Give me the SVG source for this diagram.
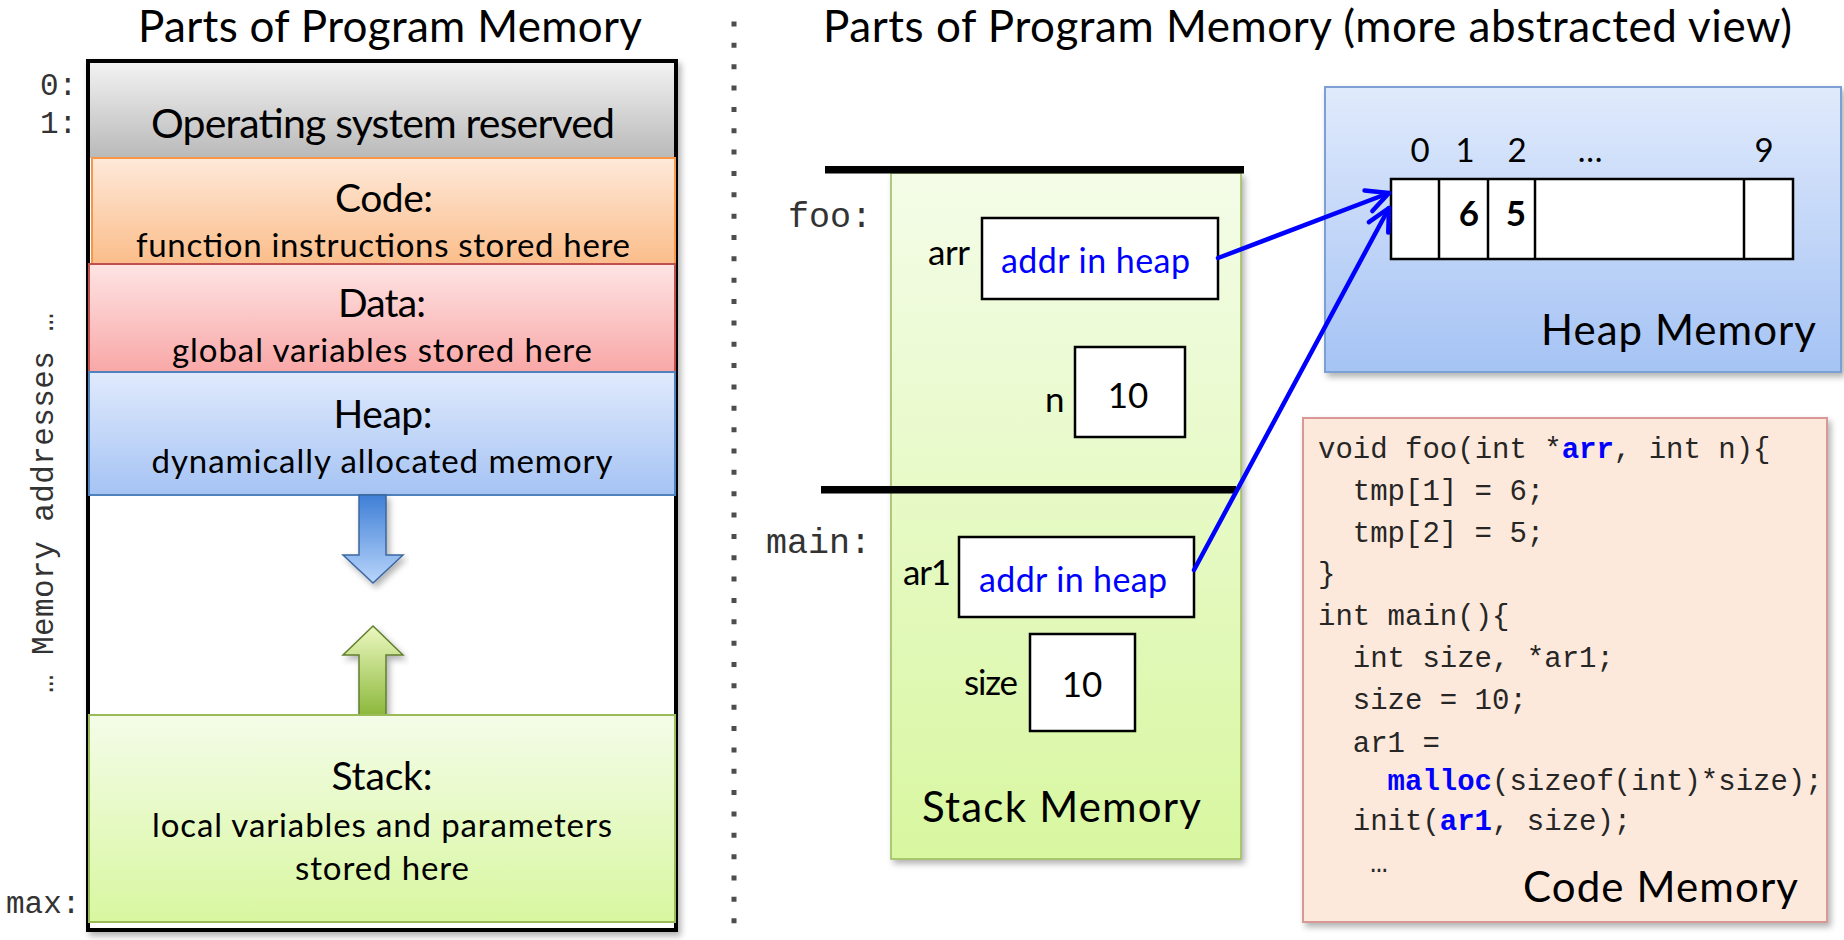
<svg xmlns="http://www.w3.org/2000/svg" width="1844" height="940" viewBox="0 0 1844 940">
<style>
.s{font-family:Lato,"Open Sans","Liberation Sans",sans-serif;fill:#000}
.m{font-family:"Liberation Mono","Courier New",monospace;fill:#333}
.c{font-family:"Liberation Mono","Courier New",monospace;fill:#262626;font-size:29px}
.kw{font-weight:bold;fill:#0000ff}
.mid{text-anchor:middle}
.box{fill:#fff;stroke:#000;stroke-width:2.5}
.blue{fill:#0000ff}
.conn{stroke:#0000ff;stroke-width:4.5;fill:none;stroke-linecap:round}
</style>
<defs>
<filter id="sh" x="-10%" y="-10%" width="120%" height="120%">
<feDropShadow dx="3" dy="4" stdDeviation="3" flood-color="#000" flood-opacity="0.3"/>
</filter>
<linearGradient id="gOS" x1="0" y1="0" x2="0" y2="1"><stop offset="0" stop-color="#f2f2f2"/><stop offset="1" stop-color="#b9b9b9"/></linearGradient>
<linearGradient id="gCode" x1="0" y1="0" x2="0" y2="1"><stop offset="0" stop-color="#fee9da"/><stop offset="1" stop-color="#fbbd8a"/></linearGradient>
<linearGradient id="gData" x1="0" y1="0" x2="0" y2="1"><stop offset="0" stop-color="#fee4e4"/><stop offset="1" stop-color="#f9a7a7"/></linearGradient>
<linearGradient id="gHeap" x1="0" y1="0" x2="0" y2="1"><stop offset="0" stop-color="#e0eafc"/><stop offset="1" stop-color="#a5c3f4"/></linearGradient>
<linearGradient id="gStack" x1="0" y1="0" x2="0" y2="1"><stop offset="0" stop-color="#f4fce8"/><stop offset="1" stop-color="#d8f7a0"/></linearGradient>
<linearGradient id="gBA" x1="0" y1="0" x2="0" y2="1"><stop offset="0" stop-color="#3f7fd6"/><stop offset="1" stop-color="#b9d5fb"/></linearGradient>
<linearGradient id="gGA" x1="0" y1="0" x2="0" y2="1"><stop offset="0" stop-color="#ecf8c0"/><stop offset="1" stop-color="#8cb83c"/></linearGradient>
<marker id="ah" markerUnits="userSpaceOnUse" markerWidth="40" markerHeight="40" refX="0" refY="0" viewBox="-30 -20 40 40" orient="auto">
<path d="M-22,-11 L0,0 L-22,11" fill="none" stroke="#0000ff" stroke-width="4.5" stroke-linecap="round" stroke-linejoin="round"/>
</marker>
</defs>
<rect width="1844" height="940" fill="#fff"/>

<!-- Left panel -->
<g id="left-title">
<text class="s mid" x="390" y="42" font-size="44" textLength="504">Parts of Program Memory</text>
</g>
<g id="address-labels">
<text class="m" x="40" y="95" font-size="31">0:</text>
<text class="m" x="40" y="133" font-size="31">1:</text>
<text class="m" x="6" y="913" font-size="31">max:</text>
<text class="m mid" transform="translate(53,503) rotate(-90)" x="0" y="0" font-size="31" fill="#4a4a4a" textLength="380">… Memory addresses …</text>
</g>
<g id="memory-column">
<rect x="88" y="61" width="588" height="869" fill="#fff" stroke="#000" stroke-width="4" filter="url(#sh)"/>
</g>
<g id="os-reserved">
<rect x="90" y="63" width="584" height="95" fill="url(#gOS)"/>
<text class="s mid" x="383" y="138" font-size="41" textLength="464">Operating system reserved</text>
</g>
<g id="code-segment">
<rect x="92" y="158" width="583" height="106" fill="url(#gCode)" stroke="#f79646" stroke-width="2"/>
<text class="s mid" x="384" y="212" font-size="39" textLength="98">Code:</text>
<text class="s mid" x="383" y="257" font-size="33" textLength="494">function instructions stored here</text>
</g>
<g id="data-segment">
<rect x="89" y="264" width="586" height="108" fill="url(#gData)" stroke="#c0504d" stroke-width="2"/>
<text class="s mid" x="382" y="317" font-size="39" textLength="88">Data:</text>
<text class="s mid" x="382" y="362" font-size="33" textLength="420">global variables stored here</text>
</g>
<g id="heap-segment">
<rect x="89" y="372" width="586" height="123" fill="url(#gHeap)" stroke="#4f81bd" stroke-width="2"/>
<text class="s mid" x="383" y="428" font-size="39" textLength="99">Heap:</text>
<text class="s mid" x="382" y="473" font-size="33" textLength="461">dynamically allocated memory</text>
</g>
<g id="heap-grows-arrow">
<path d="M359,495 L386,495 L386,555 L403,555 L373,583 L343,555 L359,555 Z" fill="url(#gBA)" stroke="#3a679f" stroke-width="1.5" filter="url(#sh)"/>
</g>
<g id="stack-grows-arrow">
<path d="M373,626 L403,655 L386,655 L386,715 L359,715 L359,655 L343,655 Z" fill="url(#gGA)" stroke="#607f2c" stroke-width="1.5" filter="url(#sh)"/>
</g>
<g id="stack-segment">
<rect x="89" y="715" width="586" height="207" fill="url(#gStack)" stroke="#9bbb59" stroke-width="2"/>
<text class="s mid" x="382" y="790" font-size="39" textLength="101">Stack:</text>
<text class="s mid" x="382" y="837" font-size="33" textLength="460">local variables and parameters</text>
<text class="s mid" x="382" y="880" font-size="33" textLength="174">stored here</text>
</g>

<!-- separator -->
<g id="separator">
<line x1="734" y1="21.5" x2="734" y2="930" stroke="#4d4d4d" stroke-width="5" stroke-dasharray="5 16.35"/>
</g>

<!-- Right panel -->
<g id="right-title">
<text class="s" x="823" y="42" font-size="44" textLength="969">Parts of Program Memory (more abstracted view)</text>
</g>
<g id="stack-memory">
<rect x="891" y="173" width="350" height="686" fill="url(#gStack)" stroke="#9bbb59" stroke-width="1.5" filter="url(#sh)"/>
<text class="s" x="922" y="822" font-size="42" textLength="279">Stack Memory</text>
</g>
<g id="foo-frame">
<rect x="825" y="166" width="419" height="7.5" fill="#000"/>
<text class="m" x="788" y="227" font-size="35">foo:</text>
</g>
<g id="main-frame">
<rect x="821" y="486" width="415" height="7.5" fill="#000"/>
<text class="m" x="766" y="553" font-size="35">main:</text>
</g>
<g id="arr-var">
<text class="s" x="928" y="265" font-size="35" textLength="42">arr</text>
<rect class="box" x="982" y="218" width="236" height="81"/>
<text class="s blue" x="1001" y="273" font-size="34" textLength="189">addr in heap</text>
</g>
<g id="n-var">
<text class="s" x="1045" y="412" font-size="35">n</text>
<rect class="box" x="1075" y="347" width="110" height="90"/>
<text class="s mid" x="1128" y="408" font-size="35">10</text>
</g>
<g id="ar1-var">
<text class="s" x="903" y="585" font-size="35" textLength="48">ar1</text>
<rect class="box" x="959" y="537" width="235" height="80"/>
<text class="s blue" x="979" y="592" font-size="34" textLength="188">addr in heap</text>
</g>
<g id="size-var">
<text class="s" x="964" y="695" font-size="35" textLength="54">size</text>
<rect class="box" x="1030" y="634" width="105" height="97"/>
<text class="s mid" x="1082" y="697" font-size="35">10</text>
</g>

<g id="heap-memory">
<rect x="1325" y="87" width="516" height="285" fill="url(#gHeap)" stroke="#7ba0d4" stroke-width="2" filter="url(#sh)"/>
<text class="s" x="1541" y="345" font-size="42" textLength="275">Heap Memory</text>
</g>
<g id="heap-array">
<text class="s mid" x="1420" y="162" font-size="33">0</text>
<text class="s mid" x="1465" y="162" font-size="33">1</text>
<text class="s mid" x="1517" y="162" font-size="33">2</text>
<text class="s mid" x="1590" y="162" font-size="33">…</text>
<text class="s mid" x="1764" y="162" font-size="33">9</text>
<rect x="1391" y="179" width="402" height="80" fill="#fff" stroke="#000" stroke-width="2.5"/>
<line x1="1439" y1="179" x2="1439" y2="259" stroke="#000" stroke-width="2.5"/>
<line x1="1488" y1="179" x2="1488" y2="259" stroke="#000" stroke-width="2.5"/>
<line x1="1535" y1="179" x2="1535" y2="259" stroke="#000" stroke-width="2.5"/>
<line x1="1744" y1="179" x2="1744" y2="259" stroke="#000" stroke-width="2.5"/>
<text class="s mid" x="1469" y="226" font-size="35" font-weight="bold">6</text>
<text class="s mid" x="1516" y="226" font-size="35" font-weight="bold">5</text>
</g>

<g id="code-memory">
<rect x="1303" y="418" width="524" height="504" fill="#fde9db" stroke="#d99795" stroke-width="2" filter="url(#sh)"/>
<text class="c" x="1318" y="458">void foo(int *<tspan class="kw">arr</tspan>, int n){</text>
<text class="c" x="1352.8" y="500">tmp[1] = 6;</text>
<text class="c" x="1352.8" y="542">tmp[2] = 5;</text>
<text class="c" x="1318" y="583">}</text>
<text class="c" x="1318" y="625">int main(){</text>
<text class="c" x="1352.8" y="667">int size, *ar1;</text>
<text class="c" x="1352.8" y="709">size = 10;</text>
<text class="c" x="1352.8" y="752">ar1 =</text>
<text class="c" x="1387.6" y="790"><tspan class="kw">malloc</tspan>(sizeof(int)*size);</text>
<text class="c" x="1352.8" y="830">init(<tspan class="kw">ar1</tspan>, size);</text>
<text class="c" x="1370.2" y="872">…</text>
<text class="s" x="1523" y="902" font-size="42" textLength="275">Code Memory</text>
</g>

<g id="connectors">
<line class="conn" x1="1218" y1="258" x2="1389" y2="193" marker-end="url(#ah)"/>
<line class="conn" x1="1194" y1="570" x2="1389" y2="208" marker-end="url(#ah)"/>
</g>
</svg>
